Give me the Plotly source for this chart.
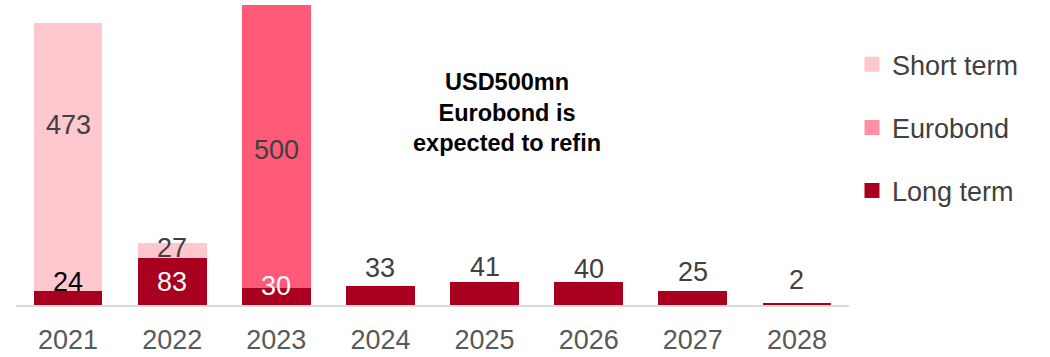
import plotly.graph_objects as go

# Debt maturity profile, USD mn
years = ["2021", "2022", "2023", "2024", "2025", "2026", "2027", "2028"]
long_term = [24, 83, 30, 33, 41, 40, 25, 2]
short_term = [473, 27, 0, 0, 0, 0, 0, 0]
eurobond = [0, 0, 500, 0, 0, 0, 0, 0]

note_text = "<b>USD500mn<br>Eurobond is<br>expected to refin</b>"

C_SHORT = "#FFC7CE"
C_EURO = "#FF5A78"
C_EURO_KEY = "#FF8FA3"
C_LONG = "#A8001E"
FONT = "Liberation Sans, Arial, sans-serif"
TXT = "#404040"

fig = go.Figure()

for name, vals, col in [("Long term", long_term, C_LONG),
                        ("Short term", short_term, C_SHORT),
                        ("Eurobond", eurobond, C_EURO)]:
    fig.add_trace(go.Bar(x=years, y=vals, name=name, marker_color=col,
                         marker_line_width=0, showlegend=False,
                         hoverinfo="x+y+name"))

# legend keys
for name, col in [("Short term", C_SHORT), ("Eurobond", C_EURO_KEY),
                  ("Long term", C_LONG)]:
    fig.add_trace(go.Scatter(x=[years[0]], y=[None], mode="markers", name=name,
                             legendgroup=name,
                             marker=dict(symbol="square", size=15, color=col)))


# value labels; x given as category index
def label(i, y, val, color, shift):
    fig.add_annotation(x=i, y=y, text=str(val),
                       showarrow=False, yanchor="middle", yshift=shift,
                       font=dict(family=FONT, size=27, color=color))


label(0, long_term[0] + short_term[0] / 2, short_term[0], TXT, 32)
label(1, long_term[1] + short_term[1] / 2, short_term[1], TXT, 2)
label(2, long_term[2] + eurobond[2] / 2, eurobond[2], TXT, -4)

long_label_style = [("#000000", 9), ("#FFFFFF", -1), ("#FFFFFF", 11),
                    (TXT, 18), (TXT, 15), (TXT, 13), (TXT, 19), (TXT, 24)]
for i, v in enumerate(long_term):
    col, sh = long_label_style[i]
    y = v / 2 if i in (1, 2) else v
    label(i, y, v, col, sh)

fig.add_annotation(x=0.589, xref="paper", y=0.63, yref="paper",
                   text=note_text, showarrow=False, align="center",
                   font=dict(family=FONT, size=23.5, color="#000000"))

fig.update_layout(
    width=1050, height=357,
    margin=dict(l=16, r=201, t=0, b=52),
    barmode="stack", bargap=0.34,
    plot_bgcolor="white", paper_bgcolor="white",
    font=dict(family=FONT, size=27, color=TXT),
    legend=dict(x=1.0036, xanchor="left", y=0.868, yanchor="top",
                traceorder="grouped", tracegroupgap=25,
                font=dict(family=FONT, size=27, color=TXT),
                itemwidth=30),
    xaxis=dict(type="category", categoryarray=years, categoryorder="array",
               range=[-0.5, 7.5], showline=True, linecolor="#D9D9D9",
               linewidth=2, ticks="", showgrid=False, ticklabelstandoff=10,
               tickfont=dict(family=FONT, size=27, color="#595959")),
    yaxis=dict(range=[0, 538], visible=False, showgrid=False),
)

fig.write_html("out.html")
